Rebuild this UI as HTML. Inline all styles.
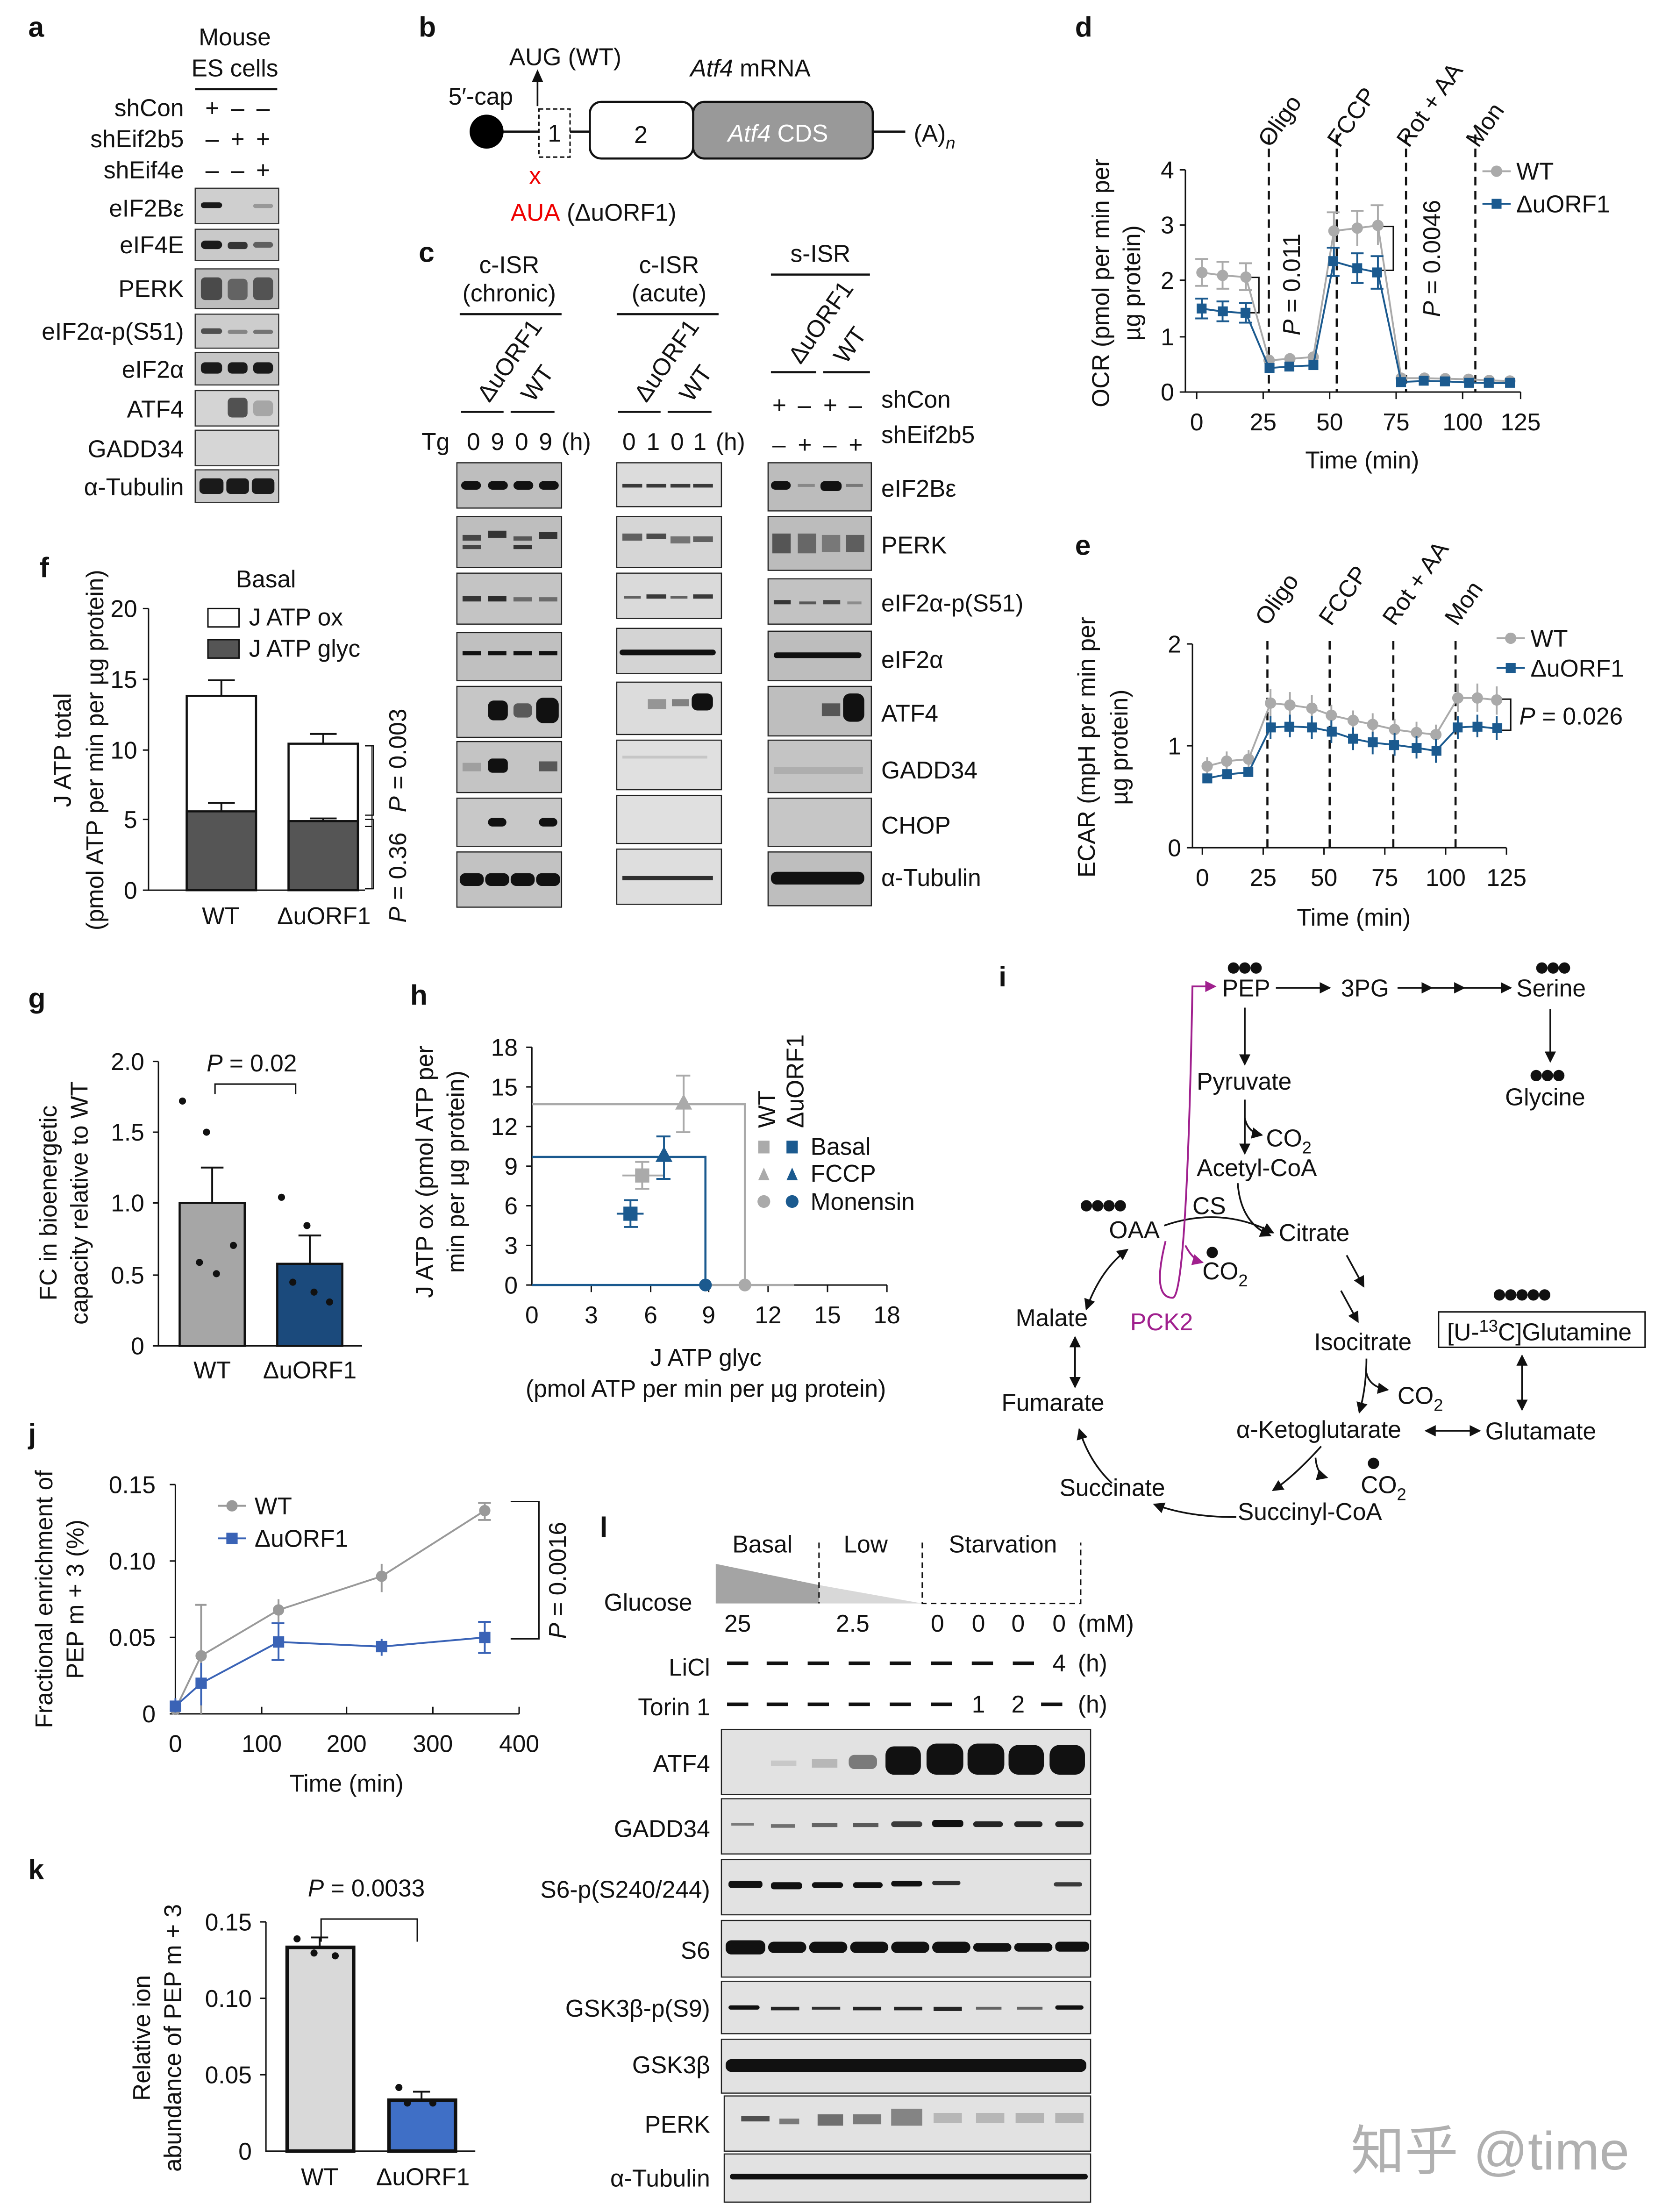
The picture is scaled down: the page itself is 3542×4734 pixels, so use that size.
<!DOCTYPE html>
<html><head><meta charset="utf-8"><style>
html,body{margin:0;padding:0;background:#fff}
svg{display:block}
text{font-family:"Liberation Sans","Noto Sans CJK SC",sans-serif;fill:#111}
.L{font-weight:bold;font-size:20px}
.t{font-size:17px}
.s{font-size:16px}
</style></head><body>
<svg width="3542" height="4734" viewBox="0 0 1170 1563" preserveAspectRatio="none" xmlns="http://www.w3.org/2000/svg">
<rect width="1170" height="1563" fill="#fff"/>
<!-- ===== a ===== -->
<text class="L" x="20" y="26">a</text>
<text class="t" x="166" y="32" text-anchor="middle">Mouse</text>
<text class="t" x="166" y="54" text-anchor="middle">ES cells</text>
<line x1="138" y1="63" x2="196" y2="63" stroke="#111" stroke-width="1.5"/>
<g class="t" text-anchor="end">
<text x="130" y="82">shCon</text><text x="130" y="104">shEif2b5</text><text x="130" y="126">shEif4e</text>
<text x="130" y="153">eIF2Bε</text><text x="130" y="179">eIF4E</text><text x="130" y="210">PERK</text>
<text x="130" y="240">eIF2α-p(S51)</text><text x="130" y="267">eIF2α</text><text x="130" y="295">ATF4</text>
<text x="130" y="323">GADD34</text><text x="130" y="350">α-Tubulin</text>
</g>
<g class="t" text-anchor="middle"><text x="150" y="82">+</text><text x="168" y="82">–</text><text x="186" y="82">–</text>
<text x="150" y="104">–</text><text x="168" y="104">+</text><text x="186" y="104">+</text>
<text x="150" y="126">–</text><text x="168" y="126">–</text><text x="186" y="126">+</text></g>
<g stroke="#333" stroke-width="0.8">
<rect x="138" y="133" width="59" height="25" fill="#cfcfcf"/><rect x="138" y="162" width="59" height="22" fill="#c9c9c9"/>
<rect x="138" y="190" width="59" height="28" fill="#bdbdbd"/><rect x="138" y="222" width="59" height="24" fill="#cdcdcd"/>
<rect x="138" y="249" width="59" height="23" fill="#c5c5c5"/><rect x="138" y="276" width="59" height="25" fill="#d4d4d4"/>
<rect x="138" y="304" width="59" height="25" fill="#d6d6d6"/><rect x="138" y="332" width="59" height="23" fill="#c8c8c8"/>
</g>
<g fill="#1a1a1a">
<rect x="142" y="143" width="15" height="4" rx="2"/><rect x="179" y="144" width="14" height="3" rx="1.5" opacity=".3"/>
<rect x="142" y="170" width="15" height="6" rx="3"/><rect x="161" y="171" width="14" height="5" rx="2" opacity=".85"/><rect x="179" y="171" width="14" height="4" rx="2" opacity=".6"/>
<rect x="142" y="196" width="15" height="16" rx="3" opacity=".7"/><rect x="161" y="197" width="14" height="15" rx="3" opacity=".55"/><rect x="179" y="196" width="14" height="16" rx="3" opacity=".65"/>
<rect x="142" y="232" width="15" height="4" rx="2" opacity=".7"/><rect x="161" y="233" width="14" height="3" rx="1.5" opacity=".4"/><rect x="179" y="233" width="14" height="3" rx="1.5" opacity=".5"/>
<rect x="142" y="256" width="15" height="8" rx="3"/><rect x="161" y="256" width="14" height="8" rx="3"/><rect x="179" y="256" width="14" height="8" rx="3"/>
<rect x="161" y="281" width="14" height="14" rx="3" opacity=".7"/><rect x="179" y="283" width="14" height="11" rx="3" opacity=".25"/>
<rect x="141" y="338" width="17" height="11" rx="3"/><rect x="160" y="338" width="16" height="11" rx="3"/><rect x="178" y="338" width="16" height="11" rx="3"/>
</g>
<!-- ===== b ===== -->
<text class="L" x="296" y="26">b</text>
<text class="t" x="360" y="46">AUG (WT)</text>
<text class="t" x="488" y="54"><tspan font-style="italic">Atf4</tspan> mRNA</text>
<text class="t" x="317" y="74">5′-cap</text>
<line x1="380" y1="75" x2="380" y2="56" stroke="#111" stroke-width="1.2"/><path d="M376,58 L380,49 L384,58Z" fill="#111"/>
<line x1="344" y1="93" x2="640" y2="93" stroke="#111" stroke-width="1.5"/>
<circle cx="344" cy="93" r="12" fill="#000"/>
<rect x="381" y="77" width="22" height="34" fill="#fff" stroke="#111" stroke-dasharray="3,2"/>
<text class="t" x="392" y="100" text-anchor="middle">1</text>
<rect x="490" y="72" width="127" height="40" rx="8" fill="#999" stroke="#111" stroke-width="1.5"/>
<rect x="417" y="72" width="73" height="40" rx="8" fill="#fff" stroke="#111" stroke-width="1.5"/>
<text class="t" x="453" y="101" text-anchor="middle">2</text>
<text class="t" x="550" y="100" text-anchor="middle" style="fill:#fff"><tspan font-style="italic" style="fill:#fff">Atf4</tspan> CDS</text>
<text class="t" x="646" y="100">(A)<tspan font-size="12" dy="5" font-style="italic">n</tspan></text>
<text class="t" x="374" y="130" style="fill:#e00">x</text>
<text class="t" x="361" y="156"><tspan style="fill:#e00">AUA</tspan> (ΔuORF1)</text>
<!-- ===== c ===== -->
<text class="L" x="296" y="185">c</text>
<g class="t" text-anchor="middle">
<text x="360" y="193">c-ISR</text><text x="360" y="213">(chronic)</text>
<text x="473" y="193">c-ISR</text><text x="473" y="213">(acute)</text>
<text x="580" y="185">s-ISR</text></g>
<g stroke="#111" stroke-width="1.5">
<line x1="325" y1="222" x2="397" y2="222"/><line x1="436" y1="222" x2="508" y2="222"/><line x1="545" y1="194" x2="615" y2="194"/>
<line x1="326" y1="291" x2="356" y2="291"/><line x1="361" y1="291" x2="392" y2="291"/>
<line x1="437" y1="291" x2="467" y2="291"/><line x1="472" y1="291" x2="503" y2="291"/>
<line x1="545" y1="263" x2="577" y2="263"/><line x1="582" y1="263" x2="615" y2="263"/></g>
<g class="t">
<text transform="translate(346,285) rotate(-55)">ΔuORF1</text><text transform="translate(377,285) rotate(-55)">WT</text>
<text transform="translate(457,285) rotate(-55)">ΔuORF1</text><text transform="translate(489,285) rotate(-55)">WT</text>
<text transform="translate(566,258) rotate(-55)">ΔuORF1</text><text transform="translate(598,258) rotate(-55)">WT</text>
</g>
<g class="t">
<text x="298" y="318">Tg</text>
<text x="330" y="318">0</text><text x="347" y="318">9</text><text x="364" y="318">0</text><text x="381" y="318">9</text><text x="397" y="318">(h)</text>
<text x="440" y="318">0</text><text x="457" y="318">1</text><text x="474" y="318">0</text><text x="490" y="318">1</text><text x="506" y="318">(h)</text>
<text x="546" y="292">+</text><text x="564" y="292">–</text><text x="582" y="292">+</text><text x="600" y="292">–</text><text x="623" y="288">shCon</text>
<text x="546" y="320">–</text><text x="564" y="320">+</text><text x="582" y="320">–</text><text x="600" y="320">+</text><text x="623" y="313">shEif2b5</text>
<text x="623" y="351">eIF2Bε</text><text x="623" y="391">PERK</text><text x="623" y="432">eIF2α-p(S51)</text><text x="623" y="472">eIF2α</text>
<text x="623" y="510">ATF4</text><text x="623" y="550">GADD34</text><text x="623" y="589">CHOP</text><text x="623" y="626">α-Tubulin</text>
</g>
<g stroke="#222" stroke-width="0.8">
<rect x="323" y="327" width="74" height="32" fill="#bebebe"/><rect x="323" y="365" width="74" height="36" fill="#bebebe"/>
<rect x="323" y="405" width="74" height="36" fill="#c4c4c4"/><rect x="323" y="447" width="74" height="34" fill="#c0c0c0"/>
<rect x="323" y="485" width="74" height="36" fill="#c6c6c6"/><rect x="323" y="524" width="74" height="36" fill="#c4c4c4"/>
<rect x="323" y="564" width="74" height="34" fill="#c8c8c8"/><rect x="323" y="602" width="74" height="39" fill="#c2c2c2"/>
<rect x="436" y="327" width="74" height="31" fill="#dcdcdc"/><rect x="436" y="365" width="74" height="36" fill="#d6d6d6"/>
<rect x="436" y="405" width="74" height="32" fill="#dadada"/><rect x="436" y="444" width="74" height="32" fill="#d4d4d4"/>
<rect x="436" y="482" width="74" height="37" fill="#dcdcdc"/><rect x="436" y="523" width="74" height="35" fill="#e0e0e0"/>
<rect x="436" y="562" width="74" height="34" fill="#e0e0e0"/><rect x="436" y="600" width="74" height="39" fill="#dedede"/>
<rect x="543" y="327" width="73" height="34" fill="#bcbcbc"/><rect x="543" y="365" width="73" height="38" fill="#bcbcbc"/>
<rect x="543" y="409" width="73" height="32" fill="#c2c2c2"/><rect x="543" y="446" width="73" height="35" fill="#bdbdbd"/>
<rect x="543" y="485" width="73" height="35" fill="#bebebe"/><rect x="543" y="523" width="73" height="37" fill="#c4c4c4"/>
<rect x="543" y="564" width="73" height="34" fill="#c6c6c6"/><rect x="543" y="602" width="73" height="38" fill="#bebebe"/>
</g>
<g fill="#111">
<!-- c chronic -->
<rect x="326" y="340" width="14" height="6" rx="3"/><rect x="345" y="340" width="14" height="6" rx="3"/><rect x="363" y="340" width="14" height="6" rx="3"/><rect x="381" y="340" width="14" height="6" rx="3"/>
<rect x="327" y="378" width="13" height="4" opacity=".7"/><rect x="327" y="385" width="13" height="3" opacity=".7"/><rect x="345" y="375" width="13" height="5" opacity=".8"/><rect x="363" y="379" width="13" height="3" opacity=".6"/><rect x="363" y="385" width="13" height="3" opacity=".8"/><rect x="381" y="376" width="13" height="5" opacity=".8"/>
<rect x="327" y="421" width="13" height="4" opacity=".8"/><rect x="345" y="421" width="13" height="4" opacity=".85"/><rect x="363" y="422" width="13" height="3" opacity=".5"/><rect x="381" y="422" width="13" height="3" opacity=".5"/>
<rect x="327" y="460" width="13" height="3"/><rect x="345" y="460" width="13" height="3"/><rect x="363" y="460" width="13" height="3"/><rect x="381" y="460" width="13" height="3"/>
<rect x="345" y="495" width="14" height="14" rx="4"/><rect x="363" y="497" width="13" height="10" rx="3" opacity=".6"/><rect x="379" y="493" width="16" height="18" rx="5"/>
<rect x="327" y="539" width="13" height="6" opacity=".2"/><rect x="345" y="536" width="14" height="10" rx="3"/><rect x="381" y="538" width="13" height="7" opacity=".6"/>
<rect x="345" y="578" width="13" height="6" rx="3"/><rect x="381" y="578" width="13" height="6" rx="3"/>
<rect x="325" y="617" width="17" height="9" rx="4"/><rect x="343" y="617" width="17" height="9" rx="4"/><rect x="361" y="617" width="17" height="9" rx="4"/><rect x="379" y="617" width="17" height="9" rx="4"/>
<!-- c acute -->
<rect x="440" y="342" width="14" height="2.5" opacity=".8"/><rect x="457" y="342" width="14" height="2.5" opacity=".8"/><rect x="474" y="342" width="14" height="2.5" opacity=".8"/><rect x="490" y="342" width="14" height="2.5" opacity=".8"/>
<rect x="440" y="377" width="14" height="5" opacity=".6"/><rect x="457" y="377" width="14" height="4" opacity=".7"/><rect x="474" y="379" width="14" height="5" opacity=".5"/><rect x="490" y="379" width="14" height="4" opacity=".6"/>
<rect x="441" y="421" width="12" height="2" opacity=".6"/><rect x="457" y="420" width="14" height="3" opacity=".8"/><rect x="474" y="421" width="12" height="2" opacity=".6"/><rect x="490" y="420" width="14" height="3" opacity=".8"/>
<rect x="438" y="459" width="68" height="4" rx="2"/>
<rect x="458" y="494" width="13" height="7" opacity=".35"/><rect x="475" y="494" width="12" height="5" opacity=".45"/><rect x="489" y="490" width="15" height="12" rx="4"/>
<rect x="440" y="534" width="60" height="2" opacity=".12"/>
<rect x="440" y="619" width="64" height="3" opacity=".85"/>
<!-- s-ISR -->
<rect x="545" y="340" width="14" height="6" rx="3"/><rect x="564" y="342" width="12" height="2" opacity=".3"/><rect x="580" y="340" width="15" height="7" rx="3"/><rect x="598" y="342" width="12" height="2" opacity=".4"/>
<rect x="546" y="377" width="13" height="14" opacity=".6"/><rect x="564" y="377" width="13" height="14" opacity=".5"/><rect x="581" y="378" width="13" height="12" opacity=".4"/><rect x="598" y="378" width="13" height="12" opacity=".55"/>
<rect x="547" y="424" width="12" height="3" opacity=".8"/><rect x="565" y="425" width="12" height="2" opacity=".6"/><rect x="582" y="424" width="12" height="3" opacity=".7"/><rect x="599" y="425" width="10" height="2" opacity=".3"/>
<rect x="547" y="461" width="62" height="4" rx="2"/>
<rect x="581" y="497" width="13" height="9" opacity=".6"/><rect x="596" y="490" width="15" height="20" rx="5"/>
<rect x="547" y="542" width="63" height="5" opacity=".12"/>
<rect x="545" y="616" width="66" height="9" rx="4"/>
</g>
<!-- ===== d ===== -->
<text class="L" x="760" y="26">d</text>
<g class="t">
<text transform="translate(898,105) rotate(-55)">Oligo</text><text transform="translate(947,105) rotate(-55)">FCCP</text>
<text transform="translate(996,105) rotate(-55)">Rot + AA</text><text transform="translate(1045,105) rotate(-55)">Mon</text>
</g>
<g stroke="#111" stroke-width="1.5" stroke-dasharray="6,4"><line x1="897" y1="95" x2="897" y2="277"/><line x1="945" y1="95" x2="945" y2="277"/><line x1="994" y1="95" x2="994" y2="277"/><line x1="1043" y1="95" x2="1043" y2="277"/></g>
<g stroke="#111" stroke-width="1" fill="none"><path d="M838,120 V277 H1075"/><path d="M834,120h4M834,159h4M834,198h4M834,238h4M834,277h4M846,277v5M893,277v5M940,277v5M987,277v5M1034,277v5M1075,277v5"/></g>
<g class="t" text-anchor="end"><text x="830" y="126">4</text><text x="830" y="165">3</text><text x="830" y="204">2</text><text x="830" y="244">1</text><text x="830" y="283">0</text></g>
<g class="t" text-anchor="middle"><text x="846" y="304">0</text><text x="893" y="304">25</text><text x="940" y="304">50</text><text x="987" y="304">75</text><text x="1034" y="304">100</text><text x="1075" y="304">125</text>
<text x="963" y="331">Time (min)</text></g>
<text class="t" text-anchor="middle" transform="translate(784,200) rotate(-90)">OCR (pmol per min per</text>
<text class="t" text-anchor="middle" transform="translate(806,200) rotate(-90)">µg protein)</text>
<text class="t" transform="translate(919,237) rotate(-90)"><tspan font-style="italic">P</tspan> = 0.011</text>
<text class="t" transform="translate(1018,224) rotate(-90)"><tspan font-style="italic">P</tspan> = 0.0046</text>
<path d="M883,196 h7 v25 h-7 M977,160 h8 v31 h-8" stroke="#111" fill="none"/>
<g stroke="#aaa" stroke-width="1.3" fill="none">
<polyline points="849.7,192.6 864.3,194.6 880.8,195.8 897.2,254.6 911.9,253.5 928.4,252.3 943,163.2 959.5,161.2 974.1,159.3 990.6,267.2 1007,267.2 1021.7,267.6 1038.2,268 1052.8,268.8 1067.4,269.2"/>
<path d="M849.7,183v19M845,183h9M845,202h9M864.3,185v19M860,185h9M860,204h9M880.8,186v19M876,186h9M876,205h9M943,150v26M938,150h9M959.5,149v25M955,149h9M974.1,145v28M969,145h9"/>
</g>
<g fill="#aaa"><circle cx="849.7" cy="192.6" r="4"/><circle cx="864.3" cy="194.6" r="4"/><circle cx="880.8" cy="195.8" r="4"/><circle cx="897.2" cy="254.6" r="4"/><circle cx="911.9" cy="253.5" r="4"/><circle cx="928.4" cy="252.3" r="4"/><circle cx="943" cy="163.2" r="4"/><circle cx="959.5" cy="161.2" r="4"/><circle cx="974.1" cy="159.3" r="4"/><circle cx="990.6" cy="267.2" r="4"/><circle cx="1007" cy="267.2" r="4"/><circle cx="1021.7" cy="267.6" r="4"/><circle cx="1038.2" cy="268" r="4"/><circle cx="1052.8" cy="268.8" r="4"/><circle cx="1067.4" cy="269.2" r="4"/></g>
<g stroke="#1b5a8f" stroke-width="1.3" fill="none">
<polyline points="849.7,218.1 864.3,220.1 880.8,221.3 897.2,260.1 911.9,258.9 928.4,258.2 943,184.8 959.5,189.5 974.1,192.6 990.6,269.9 1007,269.2 1021.7,269.5 1038.2,270.3 1052.8,270.7 1067.4,270.7"/>
<path d="M849.7,211v14M864.3,213v14M880.8,214v14M943,175v20M959.5,179v21M974.1,181v23M845,211h9M845,225h9M860,213h9M860,227h9M876,214h9M876,228h9M938,175h9M938,195h9M955,179h9M955,200h9M969,181h9M969,204h9"/>
</g>
<g fill="#1b5a8f"><rect x="846" y="214.5" width="7" height="7"/><rect x="861" y="216.5" width="7" height="7"/><rect x="877" y="217.5" width="7" height="7"/><rect x="894" y="256.5" width="7" height="7"/><rect x="908" y="255.5" width="7" height="7"/><rect x="925" y="254.5" width="7" height="7"/><rect x="939" y="181" width="7" height="7"/><rect x="956" y="186" width="7" height="7"/><rect x="970" y="189" width="7" height="7"/><rect x="987" y="266.5" width="7" height="7"/><rect x="1003" y="265.5" width="7" height="7"/><rect x="1018" y="266" width="7" height="7"/><rect x="1035" y="267" width="7" height="7"/><rect x="1049" y="267" width="7" height="7"/><rect x="1064" y="267" width="7" height="7"/></g>
<line x1="1048" y1="121" x2="1068" y2="121" stroke="#aaa" stroke-width="1.3"/><circle cx="1058" cy="121" r="4" fill="#aaa"/><text class="t" x="1072" y="127">WT</text>
<line x1="1048" y1="144" x2="1068" y2="144" stroke="#1b5a8f" stroke-width="1.3"/><rect x="1054.5" y="140.5" width="7" height="7" fill="#1b5a8f"/><text class="t" x="1072" y="150">ΔuORF1</text>
<!-- ===== e ===== -->
<text class="L" x="760" y="392">e</text>
<g class="t">
<text transform="translate(896,443) rotate(-55)">Oligo</text><text transform="translate(941,443) rotate(-55)">FCCP</text>
<text transform="translate(986,443) rotate(-55)">Rot + AA</text><text transform="translate(1030,443) rotate(-55)">Mon</text>
</g>
<g stroke="#111" stroke-width="1.5" stroke-dasharray="6,4"><line x1="896" y1="453" x2="896" y2="599"/><line x1="940" y1="453" x2="940" y2="599"/><line x1="985" y1="453" x2="985" y2="599"/><line x1="1029" y1="453" x2="1029" y2="599"/></g>
<g stroke="#111" stroke-width="1" fill="none"><path d="M843,455 V599 H1065"/><path d="M839,455h4M839,527h4M839,599h4M850,599v5M893,599v5M936,599v5M979,599v5M1022,599v5M1065,599v5"/></g>
<g class="t" text-anchor="end"><text x="835" y="461">2</text><text x="835" y="533">1</text><text x="835" y="605">0</text></g>
<g class="t" text-anchor="middle"><text x="850" y="626">0</text><text x="893" y="626">25</text><text x="936" y="626">50</text><text x="979" y="626">75</text><text x="1022" y="626">100</text><text x="1065" y="626">125</text>
<text x="957" y="654">Time (min)</text></g>
<text class="t" text-anchor="middle" transform="translate(774,528) rotate(-90)">ECAR (mpH per min per</text>
<text class="t" text-anchor="middle" transform="translate(797,528) rotate(-90)">µg protein)</text>
<g stroke="#aaa" stroke-width="1.3" fill="none">
<polyline points="853.4,541.4 867.2,537.8 882.7,536.4 898.2,496.8 911.9,498.2 927.4,500.4 941.2,505.4 956.6,509 970.4,511.9 985.9,515.5 1001.4,517.6 1015.1,519.1 1030.6,493.2 1044.4,493.2 1058.1,494.6"/>
<path d="M853.4,535v12M867.2,531v13M882.7,530v13M898.2,487v20M911.9,489v19M927.4,491v19M941.2,498v15M956.6,502v14M970.4,504v15M985.9,508v15M1001.4,510v15M1015.1,512v14M1030.6,483v20M1044.4,483v20M1058.1,485v20"/>
</g>
<g fill="#aaa"><circle cx="853.4" cy="541.4" r="4"/><circle cx="867.2" cy="537.8" r="4"/><circle cx="882.7" cy="536.4" r="4"/><circle cx="898.2" cy="496.8" r="4"/><circle cx="911.9" cy="498.2" r="4"/><circle cx="927.4" cy="500.4" r="4"/><circle cx="941.2" cy="505.4" r="4"/><circle cx="956.6" cy="509" r="4"/><circle cx="970.4" cy="511.9" r="4"/><circle cx="985.9" cy="515.5" r="4"/><circle cx="1001.4" cy="517.6" r="4"/><circle cx="1015.1" cy="519.1" r="4"/><circle cx="1030.6" cy="493.2" r="4"/><circle cx="1044.4" cy="493.2" r="4"/><circle cx="1058.1" cy="494.6" r="4"/></g>
<g stroke="#1b5a8f" stroke-width="1.3" fill="none">
<polyline points="853.4,550 867.2,547.2 882.7,545.7 898.2,514 911.9,513.3 927.4,514 941.2,516.9 956.6,522 970.4,524.8 985.9,526.3 1001.4,528.4 1015.1,530.6 1030.6,514 1044.4,513.3 1058.1,514.8"/>
<path d="M898.2,506v16M911.9,505v16M927.4,506v16M941.2,509v16M956.6,514v16M970.4,517v16M985.9,518v16M1001.4,520v16M1015.1,522v17M1030.6,506v16M1044.4,505v16M1058.1,506v17"/>
</g>
<g fill="#1b5a8f"><rect x="850" y="546.5" width="7" height="7"/><rect x="864" y="543.5" width="7" height="7"/><rect x="879" y="542" width="7" height="7"/><rect x="895" y="510.5" width="7" height="7"/><rect x="908" y="510" width="7" height="7"/><rect x="924" y="510.5" width="7" height="7"/><rect x="938" y="513.5" width="7" height="7"/><rect x="953" y="518.5" width="7" height="7"/><rect x="967" y="521" width="7" height="7"/><rect x="982" y="523" width="7" height="7"/><rect x="998" y="525" width="7" height="7"/><rect x="1012" y="527" width="7" height="7"/><rect x="1027" y="510.5" width="7" height="7"/><rect x="1041" y="510" width="7" height="7"/><rect x="1055" y="511" width="7" height="7"/></g>
<line x1="1058" y1="451" x2="1078" y2="451" stroke="#aaa" stroke-width="1.3"/><circle cx="1068" cy="451" r="4" fill="#aaa"/><text class="t" x="1082" y="457">WT</text>
<line x1="1058" y1="472" x2="1078" y2="472" stroke="#1b5a8f" stroke-width="1.3"/><rect x="1064.5" y="468.5" width="7" height="7" fill="#1b5a8f"/><text class="t" x="1082" y="478">ΔuORF1</text>
<path d="M1062,494 h6 v22 h-6" stroke="#111" fill="none"/>
<text class="t" x="1074" y="512"><tspan font-style="italic">P</tspan> = 0.026</text>
<!-- ===== f ===== -->
<text class="L" x="28" y="408">f</text>
<text class="t" x="188" y="415" text-anchor="middle">Basal</text>
<rect x="147" y="430" width="22" height="13" fill="#fff" stroke="#111"/><text class="t" x="176" y="442">J ATP ox</text>
<rect x="147" y="452" width="22" height="13" fill="#555" stroke="#111"/><text class="t" x="176" y="464">J ATP glyc</text>
<g stroke="#111" stroke-width="1" fill="none"><path d="M105,430 V629 H258"/><path d="M101,430h4M101,480h4M101,530h4M101,579h4M101,629h4"/></g>
<g class="t" text-anchor="end"><text x="97" y="436">20</text><text x="97" y="486">15</text><text x="97" y="536">10</text><text x="97" y="585">5</text><text x="97" y="635">0</text></g>
<rect x="132" y="491.7" width="49" height="137.3" fill="#fff" stroke="#111" stroke-width="1.5"/>
<rect x="132" y="573.3" width="49" height="55.7" fill="#555" stroke="#111" stroke-width="1.5"/>
<rect x="204" y="525.5" width="49" height="103.5" fill="#fff" stroke="#111" stroke-width="1.5"/>
<rect x="204" y="580.2" width="49" height="48.8" fill="#555" stroke="#111" stroke-width="1.5"/>
<path d="M156.5,491.7V480.7M147,480.7h19M156.5,573.3V567.3M147,567.3h19M228.5,525.5V518.6M219,518.6h19M228.5,580.2V578.3M219,578.3h19" stroke="#111" stroke-width="1.3"/>
<path d="M258,527 h5 v101 h-5 M258,584 h5 v44 h-5" stroke="#111" fill="none" stroke-width=".8"/>
<path d="M258,527 h6 v49 h-6 M258,579 h6 v49 h-6" stroke="#111" fill="none" stroke-width=".8"/>
<g class="t" text-anchor="middle"><text x="156" y="653">WT</text><text x="229" y="653">ΔuORF1</text></g>
<text class="t" transform="translate(287,574) rotate(-90)"><tspan font-style="italic">P</tspan> = 0.003</text>
<text class="t" transform="translate(287,652) rotate(-90)"><tspan font-style="italic">P</tspan> = 0.36</text>
<text class="t" text-anchor="middle" transform="translate(50,530) rotate(-90)">J ATP total</text>
<text class="t" text-anchor="middle" transform="translate(73,530) rotate(-90)">(pmol ATP per min per µg protein)</text>
<!-- ===== g ===== -->
<text class="L" x="20" y="712">g</text>
<g stroke="#111" stroke-width="1" fill="none"><path d="M112,750 V951 H256"/><path d="M108,750h4M108,800h4M108,850h4M108,901h4M108,951h4"/></g>
<g class="t" text-anchor="end"><text x="102" y="756">2.0</text><text x="102" y="806">1.5</text><text x="102" y="856">1.0</text><text x="102" y="907">0.5</text><text x="102" y="957">0</text></g>
<rect x="127" y="850" width="46" height="101" fill="#a6a6a6" stroke="#111" stroke-width="1.5"/>
<rect x="196" y="893" width="46" height="58" fill="#1b4a7c" stroke="#111" stroke-width="1.5"/>
<path d="M150,850V825M142,825h16M219,893V873M211,873h16" stroke="#111" stroke-width="1.3"/>
<g fill="#111"><circle cx="129" cy="778" r="2.5"/><circle cx="146" cy="800" r="2.5"/><circle cx="165" cy="880" r="2.5"/><circle cx="141" cy="892" r="2.5"/><circle cx="153" cy="900" r="2.5"/>
<circle cx="199" cy="846" r="2.5"/><circle cx="217" cy="866" r="2.5"/><circle cx="207" cy="906" r="2.5"/><circle cx="222" cy="913" r="2.5"/><circle cx="233" cy="920" r="2.5"/></g>
<path d="M152,773 v-7 h57 v7" stroke="#111" fill="none"/>
<text class="t" x="178" y="757" text-anchor="middle"><tspan font-style="italic">P</tspan> = 0.02</text>
<g class="t" text-anchor="middle"><text x="150" y="974">WT</text><text x="219" y="974">ΔuORF1</text></g>
<text class="t" text-anchor="middle" transform="translate(40,850) rotate(-90)">FC in bioenergetic</text>
<text class="t" text-anchor="middle" transform="translate(62,850) rotate(-90)">capacity relative to WT</text>
<!-- ===== h ===== -->
<text class="L" x="290" y="710">h</text>
<g stroke="#111" stroke-width="1" fill="none"><path d="M376,740 V908 H627"/><path d="M372,740h4M372,768h4M372,796h4M372,824h4M372,852h4M372,880h4M372,908h4M418,908v5M460,908v5M501,908v5M543,908v5M585,908v5M627,908v5"/></g>
<g class="t" text-anchor="end"><text x="366" y="746">18</text><text x="366" y="774">15</text><text x="366" y="802">12</text><text x="366" y="830">9</text><text x="366" y="858">6</text><text x="366" y="886">3</text><text x="366" y="914">0</text></g>
<g class="t" text-anchor="middle"><text x="376" y="935">0</text><text x="418" y="935">3</text><text x="460" y="935">6</text><text x="501" y="935">9</text><text x="543" y="935">12</text><text x="585" y="935">15</text><text x="627" y="935">18</text>
<text x="499" y="965">J ATP glyc</text><text x="499" y="987">(pmol ATP per min per µg protein)</text></g>
<text class="t" text-anchor="middle" transform="translate(306,828) rotate(-90)">J ATP ox (pmol ATP per</text>
<text class="t" text-anchor="middle" transform="translate(328,828) rotate(-90)">min per µg protein)</text>
<path d="M376,780.2 H526.6 V908" stroke="#aaa" stroke-width="1.5" fill="none"/>
<path d="M498.7,908 H561.4" stroke="#aaa" stroke-width="1.5"/>
<path d="M376,817.5 H498.7 V908 H376" stroke="#1b5a8f" stroke-width="1.5" fill="none"/>
<g stroke="#aaa" stroke-width="1.3"><path d="M483.3,760v40M478,760h10M478,800h10M466,780v0M440,830.6h30M454,821v19M449,821h10M449,840h10"/></g>
<rect x="449" y="825.6" width="10" height="10" fill="#aaa"/>
<path d="M483.3,773 l6,11 h-12z" fill="#aaa"/>
<g stroke="#1b5a8f" stroke-width="1.3"><path d="M469.4,803v30M464,803h10M464,833h10M457,817.5h25M436,857.6h19M445.7,848v19M441,848h10M441,867h10"/></g>
<path d="M469.4,810 l6,11 h-12z" fill="#1b5a8f"/>
<rect x="440.7" y="852.6" width="10" height="10" fill="#1b5a8f"/>
<circle cx="498.7" cy="908" r="4.5" fill="#1b5a8f"/><circle cx="526.6" cy="908" r="4.5" fill="#aaa"/>
<text class="t" transform="translate(548,797) rotate(-90)">WT</text>
<text class="t" transform="translate(568,797) rotate(-90)">ΔuORF1</text>
<rect x="536" y="806" width="8" height="9" fill="#aaa"/><rect x="556" y="806" width="8" height="9" fill="#1b5a8f"/><text class="t" x="573" y="816">Basal</text>
<path d="M540,825 l4,9 h-8z" fill="#aaa"/><path d="M560,825 l4,9 h-8z" fill="#1b5a8f"/><text class="t" x="573" y="835">FCCP</text>
<circle cx="540" cy="849" r="4.5" fill="#aaa"/><circle cx="560" cy="849" r="4.5" fill="#1b5a8f"/><text class="t" x="573" y="855">Monensin</text>
<!-- ===== i ===== -->
<text class="L" x="706" y="697">i</text>
<g class="t">
<text x="864" y="704">PEP</text><text x="948" y="704">3PG</text><text x="1072" y="704">Serine</text>
<text x="846" y="770">Pyruvate</text><text x="1064" y="781">Glycine</text>
<text x="895" y="810">CO<tspan font-size="12" dy="5">2</tspan></text>
<text x="846" y="831">Acetyl-CoA</text><text x="843" y="858">CS</text>
<text x="784" y="875">OAA</text><text x="904" y="877">Citrate</text>
<text x="850" y="904">CO<tspan font-size="12" dy="5">2</tspan></text>
<text x="718" y="937">Malate</text><text x="799" y="940" style="fill:#a0208e">PCK2</text>
<text x="929" y="954">Isocitrate</text>
<text x="1023" y="947">[U-<tspan font-size="12" dy="-6">13</tspan><tspan dy="6">C]Glutamine</tspan></text>
<text x="988" y="992">CO<tspan font-size="12" dy="5">2</tspan></text>
<text x="708" y="997">Fumarate</text>
<text x="874" y="1016">α-Ketoglutarate</text><text x="1050" y="1017">Glutamate</text>
<text x="962" y="1055">CO<tspan font-size="12" dy="5">2</tspan></text>
<text x="749" y="1057">Succinate</text><text x="875" y="1074">Succinyl-CoA</text>
</g>
<rect x="1017" y="927" width="146" height="25" fill="none" stroke="#111"/>
<g fill="#111">
<circle cx="872" cy="684" r="4"/><circle cx="880" cy="684" r="4"/><circle cx="888" cy="684" r="4"/>
<circle cx="1090" cy="684" r="4"/><circle cx="1098" cy="684" r="4"/><circle cx="1106" cy="684" r="4"/>
<circle cx="1086" cy="760" r="4"/><circle cx="1094" cy="760" r="4"/><circle cx="1102" cy="760" r="4"/>
<circle cx="768" cy="852" r="4"/><circle cx="776" cy="852" r="4"/><circle cx="784" cy="852" r="4"/><circle cx="792" cy="852" r="4"/>
<circle cx="857" cy="885" r="4"/><circle cx="971" cy="1034" r="4"/>
<circle cx="1060" cy="915" r="4"/><circle cx="1068" cy="915" r="4"/><circle cx="1076" cy="915" r="4"/><circle cx="1084" cy="915" r="4"/><circle cx="1092" cy="915" r="4"/>
</g>
<defs><marker id="ar" markerWidth="8" markerHeight="8" refX="7" refY="4" orient="auto" markerUnits="userSpaceOnUse"><path d="M0,0 L8,4 L0,8z" fill="#111"/></marker>
<marker id="ar2" markerWidth="8" markerHeight="8" refX="1" refY="4" orient="auto" markerUnits="userSpaceOnUse"><path d="M8,0 L0,4 L8,8z" fill="#111"/></marker>
<marker id="am" markerWidth="8" markerHeight="8" refX="7" refY="4" orient="auto" markerUnits="userSpaceOnUse"><path d="M0,0 L8,4 L0,8z" fill="#a0208e"/></marker></defs>
<g stroke="#111" stroke-width="1.2" fill="none" marker-end="url(#ar)">
<line x1="902" y1="698" x2="940" y2="698"/><line x1="988" y1="698" x2="1012" y2="698"/><line x1="1012" y1="698" x2="1035" y2="698"/><line x1="1035" y1="698" x2="1068" y2="698"/>
<line x1="880" y1="712" x2="880" y2="752"/><line x1="1096" y1="713" x2="1096" y2="750"/>
<line x1="880" y1="777" x2="880" y2="815"/><path d="M880,790 q2,10 12,12"/>
<path d="M875,836 q2,28 23,37"/><path d="M823,866 q40,-14 77,5"/>
<path d="M952,887 l12,22"/><path d="M948,912 l12,22"/>
<path d="M966,960 q0,20 -5,38"/><path d="M966,970 q2,10 15,12"/>
<path d="M934,1022 q-20,22 -34,31"/><path d="M930,1030 q1,12 8,14"/>
<path d="M874,1072 q-34,0 -58,-9"/><path d="M786,1048 q-16,-15 -23,-38"/>
</g>
<g stroke="#111" stroke-width="1.2" fill="none" marker-end="url(#ar)" marker-start="url(#ar2)">
<path d="M768,925 q10,-28 29,-42"/><line x1="760" y1="945" x2="760" y2="980"/>
<line x1="1008" y1="1011" x2="1046" y2="1011"/><line x1="1076" y1="958" x2="1076" y2="996"/>
</g>
<path d="M824,877 q-10,40 5,40 q10,0 14,-220 h16" stroke="#a0208e" stroke-width="1.3" fill="none" marker-end="url(#am)"/>
<path d="M838,880 q5,10 12,12" stroke="#a0208e" stroke-width="1.3" fill="none" marker-end="url(#am)"/>
<!-- ===== j ===== -->
<text class="L" x="20" y="1020">j</text>
<g stroke="#111" stroke-width="1" fill="none"><path d="M124,1049 V1211 H367"/><path d="M120,1049h4M120,1103h4M120,1157h4M120,1211h4M185,1211v-5M245,1211v-5M306,1211v-5M367,1211v-5"/></g>
<g class="t" text-anchor="end"><text x="110" y="1055">0.15</text><text x="110" y="1109">0.10</text><text x="110" y="1163">0.05</text><text x="110" y="1217">0</text></g>
<g class="t" text-anchor="middle"><text x="124" y="1238">0</text><text x="185" y="1238">100</text><text x="245" y="1238">200</text><text x="306" y="1238">300</text><text x="367" y="1238">400</text><text x="245" y="1266">Time (min)</text></g>
<text class="t" text-anchor="middle" transform="translate(37,1130) rotate(-90)">Fractional enrichment of</text>
<text class="t" text-anchor="middle" transform="translate(59,1130) rotate(-90)">PEP m + 3 (%)</text>
<g stroke="#999" stroke-width="1.3" fill="none"><polyline points="124,1207.8 142.2,1170 196.9,1137.6 269.8,1113.8 342.7,1067.4"/>
<path d="M142.2,1134v77M138,1134h8M196.9,1130v16M269.8,1105v20M342.7,1062v12M338,1062h9M338,1074h9"/></g>
<g fill="#999"><circle cx="124" cy="1207.8" r="4"/><circle cx="142.2" cy="1170" r="4"/><circle cx="196.9" cy="1137.6" r="4"/><circle cx="269.8" cy="1113.8" r="4"/><circle cx="342.7" cy="1067.4" r="4"/></g>
<g stroke="#3a63b6" stroke-width="1.3" fill="none"><polyline points="124,1205.6 142.2,1189.4 196.9,1160.2 269.8,1163.5 342.7,1157"/>
<path d="M124,1200v10M142.2,1175v30M196.9,1147v26M192,1147h9M192,1173h9M269.8,1158v12M342.7,1146v22M338,1146h9M338,1168h9"/></g>
<g fill="#3a63b6"><rect x="120" y="1201.6" width="8" height="8"/><rect x="138.2" y="1185.4" width="8" height="8"/><rect x="192.9" y="1156.2" width="8" height="8"/><rect x="265.8" y="1159.5" width="8" height="8"/><rect x="338.7" y="1153" width="8" height="8"/></g>
<line x1="154" y1="1064" x2="174" y2="1064" stroke="#999" stroke-width="1.3"/><circle cx="164" cy="1064" r="4" fill="#999"/><text class="t" x="180" y="1070">WT</text>
<line x1="154" y1="1087" x2="174" y2="1087" stroke="#3a63b6" stroke-width="1.3"/><rect x="160" y="1083" width="8" height="8" fill="#3a63b6"/><text class="t" x="180" y="1093">ΔuORF1</text>
<path d="M361,1061 h20 v97 h-20" stroke="#111" fill="none"/>
<text class="t" transform="translate(400,1158) rotate(-90)"><tspan font-style="italic">P</tspan> = 0.0016</text>
<!-- ===== k ===== -->
<text class="L" x="20" y="1328">k</text>
<g stroke="#111" stroke-width="1" fill="none"><path d="M188,1358 V1520 H336"/><path d="M184,1358h4M184,1412h4M184,1466h4"/></g>
<g class="t" text-anchor="end"><text x="178" y="1364">0.15</text><text x="178" y="1418">0.10</text><text x="178" y="1472">0.05</text><text x="178" y="1526">0</text></g>
<rect x="203" y="1376" width="47" height="144" fill="#d9d9d9" stroke="#111" stroke-width="2.5"/>
<rect x="275" y="1484" width="47" height="36" fill="#3f6fc6" stroke="#111" stroke-width="2.5"/>
<path d="M226,1376v-7M220,1369h12M298,1484v-6M292,1478h12" stroke="#111" stroke-width="1.3"/>
<g fill="#111"><circle cx="210" cy="1370" r="2.5"/><circle cx="222" cy="1380" r="2.5"/><circle cx="237" cy="1382" r="2.5"/><circle cx="282" cy="1475" r="2.5"/><circle cx="288" cy="1486" r="2.5"/><circle cx="306" cy="1486" r="2.5"/></g>
<path d="M227,1372 v-16 h68 v16" stroke="#111" fill="none"/>
<text class="t" x="259" y="1340" text-anchor="middle"><tspan font-style="italic">P</tspan> = 0.0033</text>
<g class="t" text-anchor="middle"><text x="226" y="1544">WT</text><text x="299" y="1544">ΔuORF1</text></g>
<text class="t" text-anchor="middle" transform="translate(106,1440) rotate(-90)">Relative ion</text>
<text class="t" text-anchor="middle" transform="translate(128,1440) rotate(-90)">abundance of PEP m + 3</text>
<!-- ===== l ===== -->
<text class="L" x="424" y="1086">l</text>
<g class="t" text-anchor="middle"><text x="539" y="1097">Basal</text><text x="612" y="1097">Low</text><text x="709" y="1097">Starvation</text></g>
<path d="M506,1105 L579,1120 V1133 H506Z" fill="#a4a4a4"/><path d="M579,1120 L652,1133 H579Z" fill="#d8d8d8"/>
<path d="M579,1090 V1133 M652,1090 V1133 H764 V1090" stroke="#111" stroke-dasharray="4,3" fill="none"/>
<text class="t" x="427" y="1138">Glucose</text>
<g class="t"><text x="512" y="1153">25</text><text x="591" y="1153">2.5</text><text x="658" y="1153">0</text><text x="687" y="1153">0</text><text x="715" y="1153">0</text><text x="744" y="1153">0</text><text x="762" y="1153">(mM)</text>
<text x="502" y="1184" text-anchor="end">LiCl</text><text x="744" y="1181">4</text><text x="762" y="1181">(h)</text>
<text x="502" y="1212" text-anchor="end">Torin 1</text><text x="687" y="1210">1</text><text x="715" y="1210">2</text><text x="762" y="1210">(h)</text></g>
<g fill="#111"><rect x="514" y="1174" width="15" height="2.5"/><rect x="542" y="1174" width="15" height="2.5"/><rect x="571" y="1174" width="15" height="2.5"/><rect x="600" y="1174" width="15" height="2.5"/><rect x="629" y="1174" width="15" height="2.5"/><rect x="658" y="1174" width="15" height="2.5"/><rect x="687" y="1174" width="15" height="2.5"/><rect x="716" y="1174" width="15" height="2.5"/>
<rect x="514" y="1203" width="15" height="2.5"/><rect x="542" y="1203" width="15" height="2.5"/><rect x="571" y="1203" width="15" height="2.5"/><rect x="600" y="1203" width="15" height="2.5"/><rect x="629" y="1203" width="15" height="2.5"/><rect x="658" y="1203" width="15" height="2.5"/><rect x="736" y="1203" width="15" height="2.5"/></g>
<g class="t" text-anchor="end"><text x="502" y="1252">ATF4</text><text x="502" y="1298">GADD34</text><text x="502" y="1341">S6-p(S240/244)</text><text x="502" y="1384">S6</text>
<text x="502" y="1425">GSK3β-p(S9)</text><text x="502" y="1465">GSK3β</text><text x="502" y="1507">PERK</text><text x="502" y="1545">α-Tubulin</text></g>
<g stroke="#222" stroke-width="0.8" fill="#e2e2e2">
<rect x="510" y="1222" width="261" height="46"/><rect x="510" y="1271" width="261" height="39"/><rect x="510" y="1314" width="261" height="39"/><rect x="510" y="1357" width="261" height="40"/>
<rect x="510" y="1400" width="261" height="37"/><rect x="510" y="1441" width="261" height="38"/><rect x="512" y="1481" width="259" height="39"/><rect x="512" y="1522" width="259" height="34"/></g>
<g fill="#111">
<rect x="545" y="1244" width="18" height="4" opacity=".12"/><rect x="574" y="1243" width="18" height="6" opacity=".2"/><rect x="600" y="1240" width="20" height="10" rx="4" opacity=".5"/>
<rect x="626" y="1234" width="25" height="20" rx="6"/><rect x="655" y="1232" width="26" height="22" rx="7"/><rect x="684" y="1232" width="26" height="22" rx="7"/><rect x="713" y="1233" width="25" height="21" rx="7"/><rect x="742" y="1233" width="25" height="21" rx="7"/>
<rect x="517" y="1288" width="16" height="2" opacity=".5"/><rect x="545" y="1289" width="17" height="2.5" opacity=".55"/><rect x="574" y="1288" width="18" height="3" opacity=".6"/><rect x="603" y="1288" width="18" height="3" opacity=".65"/><rect x="630" y="1287" width="22" height="4" rx="2" opacity=".8"/><rect x="659" y="1286" width="22" height="5" rx="2"/><rect x="688" y="1287" width="21" height="4" rx="2" opacity=".9"/><rect x="717" y="1287" width="20" height="4" rx="2" opacity=".9"/><rect x="746" y="1287" width="20" height="4" rx="2" opacity=".9"/>
<rect x="515" y="1329" width="24" height="5" rx="2"/><rect x="545" y="1330" width="22" height="5" rx="2"/><rect x="574" y="1330" width="22" height="4" rx="2"/><rect x="603" y="1330" width="21" height="4" rx="2"/><rect x="630" y="1329" width="22" height="4" rx="2"/><rect x="659" y="1329" width="20" height="3" rx="1.5" opacity=".85"/><rect x="745" y="1330" width="20" height="3" rx="1.5" opacity=".8"/>
<rect x="513" y="1371" width="28" height="10" rx="4"/><rect x="543" y="1372" width="27" height="8" rx="4"/><rect x="572" y="1372" width="27" height="8" rx="4"/><rect x="601" y="1372" width="27" height="8" rx="4"/><rect x="630" y="1372" width="27" height="8" rx="4"/><rect x="659" y="1372" width="27" height="8" rx="4"/><rect x="688" y="1373" width="27" height="6" rx="3"/><rect x="717" y="1373" width="27" height="6" rx="3"/><rect x="746" y="1372" width="24" height="7" rx="3"/>
<rect x="515" y="1417" width="22" height="3" rx="1.5"/><rect x="545" y="1418" width="20" height="2.5" opacity=".9"/><rect x="574" y="1418" width="20" height="2" opacity=".85"/><rect x="603" y="1418" width="20" height="2.5" opacity=".9"/><rect x="632" y="1418" width="20" height="2.5" opacity=".9"/><rect x="660" y="1418" width="20" height="3" opacity=".9"/><rect x="690" y="1418" width="18" height="2" opacity=".6"/><rect x="719" y="1418" width="18" height="2" opacity=".6"/><rect x="746" y="1417" width="20" height="3" rx="1.5"/>
<rect x="513" y="1455" width="255" height="9" rx="4"/>
<rect x="524" y="1495" width="20" height="4" opacity=".7"/><rect x="551" y="1497" width="14" height="4" opacity=".5"/><rect x="578" y="1494" width="18" height="8" opacity=".55"/><rect x="603" y="1494" width="20" height="7" opacity=".5"/><rect x="630" y="1490" width="22" height="12" opacity=".45"/><rect x="660" y="1493" width="20" height="7" opacity=".2"/><rect x="690" y="1493" width="20" height="7" opacity=".2"/><rect x="718" y="1493" width="20" height="7" opacity=".22"/><rect x="746" y="1493" width="20" height="7" opacity=".22"/>
<rect x="516" y="1536" width="253" height="4" rx="2"/>
</g>
<!-- watermark -->
<text x="955" y="1533" style="fill:#b0b0b0;font-size:38px">知乎 @time</text>
</svg>
</body></html>
